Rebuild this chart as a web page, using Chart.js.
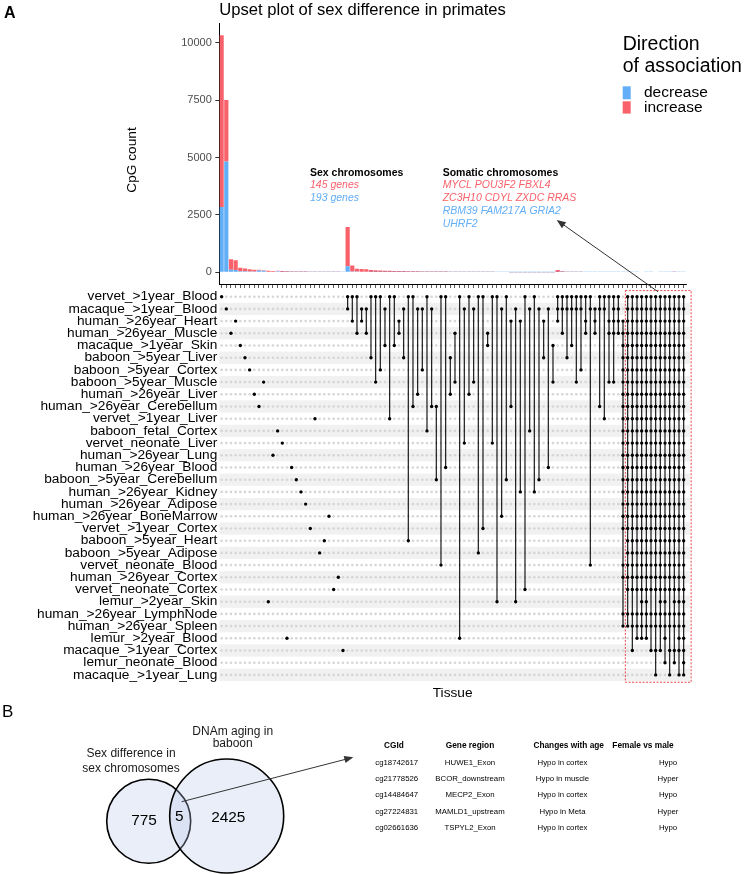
<!DOCTYPE html>
<html lang="en">
<head>
<meta charset="UTF-8">
<title>Upset plot of sex difference in primates</title>
<script src="https://cdn.jsdelivr.net/npm/chart.js@4"></script>
<style>
  body { margin: 0; background: #fff; }
  #page { position: relative; width: 746px; height: 874px; overflow: hidden; }
  canvas { position: absolute; left: 0; }
  #barCanvas { top: 0; z-index: 2; }
  #matrixCanvas { top: 280px; z-index: 1; }
  #vennCanvas { top: 700px; }
</style>
</head>
<body>
<div id="page">
  <canvas id="barCanvas" width="746" height="300"></canvas>
  <canvas id="matrixCanvas" width="746" height="425"></canvas>
  <canvas id="vennCanvas" width="746" height="174"></canvas>
</div>
<script>
const FONT = '"Liberation Sans", Arial, Helvetica, sans-serif';
const BLUE = '#62aef7';
const RED = '#f9626b';

// ---- data ----
const tissues = [
  'vervet_>1year_Blood', 'macaque_>1year_Blood', 'human_>26year_Heart', 'human_>26year_Muscle',
  'macaque_>1year_Skin', 'baboon_>5year_Liver', 'baboon_>5year_Cortex', 'baboon_>5year_Muscle',
  'human_>26year_Liver', 'human_>26year_Cerebellum', 'vervet_>1year_Liver', 'baboon_fetal_Cortex',
  'vervet_neonate_Liver', 'human_>26year_Lung', 'human_>26year_Blood', 'baboon_>5year_Cerebellum',
  'human_>26year_Kidney', 'human_>26year_Adipose', 'human_>26year_BoneMarrow', 'vervet_>1year_Cortex',
  'baboon_>5year_Heart', 'baboon_>5year_Adipose', 'vervet_neonate_Blood', 'human_>26year_Cortex',
  'vervet_neonate_Cortex', 'lemur_>2year_Skin', 'human_>26year_LymphNode', 'human_>26year_Spleen',
  'lemur_>2year_Blood', 'macaque_>1year_Cortex', 'lemur_neonate_Blood', 'macaque_>1year_Lung'
];

// rows (tissue index) taking part in each intersection column
const sets = [
  [0], [1], [3], [2], [4], [5], [6], [8], [9], [7],
  [25], [13], [11], [12], [28], [14], [15], [16], [17], [19],
  [10], [21], [20], [18], [24], [23], [29],
  [0, 1], [0, 2], [0, 3], [1, 2], [1, 3], [0, 5], [0, 7], [0, 6], [1, 4],
  [0, 10], [0, 4], [2, 3], [1, 5], [0, 20], [0, 9], [1, 8], [1, 6], [0, 11], [1, 9],
  [9, 15], [0, 22], [0, 14], [5, 8], [3, 7], [0, 28], [1, 12], [0, 8], [1, 7], [0, 21],
  [0, 19], [3, 4], [0, 12], [0, 25], [1, 18], [0, 15], [2, 9], [1, 25], [2, 16], [0, 24],
  [1, 11], [0, 16], [1, 15], [2, 5], [1, 14], [4, 7],
  [0, 1, 2], [0, 1, 3], [0, 1, 5], [0, 1, 4], [0, 1, 7], [0, 1, 6], [0, 2, 3], [0, 1, 22],
  [1, 2, 3], [0, 1, 9], [0, 1, 10], [0, 2, 3, 7], [0, 1, 2, 3, 7], [0, 1, 2, 3],
  [2, 3, 4, 5, 6, 7, 8, 9, 10, 11, 12, 13, 14, 15, 16, 17, 18, 19, 22, 23, 26, 27],
  [0, 1, 2, 3, 4, 5, 6, 7, 8, 9, 10, 11, 12, 13, 14, 15, 16, 17, 18, 19, 20, 21, 22, 23, 24, 26, 27],
  [0, 1, 2, 3, 4, 5, 6, 7, 8, 9, 10, 11, 12, 13, 14, 15, 16, 17, 18, 19, 20, 21, 22, 23, 24, 26, 27, 29],
  [0, 1, 2, 3, 4, 5, 6, 7, 8, 9, 10, 11, 12, 13, 14, 15, 16, 17, 18, 19, 20, 21, 22, 23, 24, 26, 27, 28],
  [0, 1, 2, 3, 4, 5, 6, 7, 8, 9, 10, 11, 12, 13, 14, 15, 16, 17, 18, 19, 20, 21, 22, 23, 24, 25, 26, 27, 28],
  [0, 1, 2, 3, 4, 5, 6, 7, 8, 9, 10, 11, 12, 13, 14, 15, 16, 17, 18, 19, 20, 21, 22, 23, 24, 25, 26, 27, 28],
  [0, 1, 2, 3, 4, 5, 6, 7, 8, 9, 10, 11, 12, 13, 14, 15, 16, 17, 18, 19, 20, 21, 22, 23, 24, 26, 27, 29],
  [0, 1, 2, 3, 4, 5, 6, 7, 8, 9, 10, 11, 12, 13, 14, 15, 16, 17, 18, 19, 20, 21, 22, 23, 24, 26, 27, 29, 31],
  [0, 1, 2, 3, 4, 5, 6, 7, 8, 9, 10, 11, 12, 13, 14, 15, 16, 17, 18, 19, 20, 21, 22, 23, 24, 25, 26, 27, 29],
  [0, 1, 2, 3, 4, 5, 6, 7, 8, 9, 10, 11, 12, 13, 14, 15, 16, 17, 18, 19, 20, 21, 22, 23, 24, 25, 26, 27, 28, 30],
  [0, 1, 2, 3, 4, 5, 6, 7, 8, 9, 10, 11, 12, 13, 14, 15, 16, 17, 18, 19, 20, 21, 22, 23, 24, 26, 27, 29, 31],
  [0, 1, 2, 3, 4, 5, 6, 7, 8, 9, 10, 11, 12, 13, 14, 15, 16, 17, 18, 19, 20, 21, 22, 23, 24, 25, 26, 27, 29, 30],
  [0, 1, 2, 3, 4, 5, 6, 7, 8, 9, 10, 11, 12, 13, 14, 15, 16, 17, 18, 19, 20, 21, 22, 23, 24, 25, 26, 27, 28, 29, 31],
  [0, 1, 2, 3, 4, 5, 6, 7, 8, 9, 10, 11, 12, 13, 14, 15, 16, 17, 18, 19, 20, 21, 22, 23, 24, 25, 26, 27, 28, 29, 30, 31]
];

const decrease = [
  2840, 4830, 110, 90, 40, 35, 30, 25, 70, 60,
  15, 12, 40, 10, 8, 8, 6, 6, 5, 5,
  4, 4, 4, 3, 3, 3, 3,
  260, 30, 25, 20, 15, 10, 10, 8, 8,
  6, 6, 5, 5, 5, 4, 4, 4, 3, 3,
  3, 3, 3, 2, 2, 2, 2, 2, 2, 2,
  2, 2, 2, 2, 2, 2, 1, 1, 1, 1,
  1, 1, 1, 1, 1, 1,
  8, 4, 3, 2, 2, 2, 2, 2,
  2, 2, 2, 2, 2, 2,
  3, 4, 3, 4, 15, 3, 4, 20, 3, 3, 2, 2, 2, 2
];
const increase = [
  7500, 2680, 450, 430, 150, 120, 95, 80, 30, 25,
  45, 40, 20, 35, 30, 25, 22, 20, 18, 16,
  15, 14, 12, 11, 10, 9, 8,
  1715, 260, 120, 115, 110, 80, 70, 60, 55,
  50, 45, 42, 40, 36, 33, 30, 28, 26, 24,
  22, 21, 20, 18, 17, 16, 15, 14, 13, 12,
  11, 10, 10, 9, 9, 8, 8, 7, 7, 6,
  6, 5, 5, 5, 4, 4,
  85, 30, 18, 14, 12, 10, 9, 8,
  7, 6, 5, 5, 4, 4,
  3, 3, 3, 2, 2, 2, 3, 2, 2, 2, 2, 20, 3, 2
];

const yTicks = [0, 2500, 5000, 7500, 10000];
const legendTitle = ['Direction', 'of association'];
const legendLabels = ['decrease', 'increase'];
const sexGenes = ['145 genes', '193 genes'];
const somaticUp = ['MYCL POU3F2 FBXL4', 'ZC3H10 CDYL ZXDC RRAS'];
const somaticDown = ['RBM39 FAM217A GRIA2', 'UHRF2'];

const vennNames = [['Sex difference in', 'sex chromosomes'], ['DNAm aging in', 'baboon']];
const vennCounts = [775, 5, 2425];
const tableHeader = ['CGId', 'Gene region', 'Changes with age', 'Female vs male'];
const tableRows = [
  ['cg18742617', 'HUWE1_Exon', 'Hypo in cortex', 'Hypo'],
  ['cg21778526', 'BCOR_downstream', 'Hypo in muscle', 'Hyper'],
  ['cg14484647', 'MECP2_Exon', 'Hypo in cortex', 'Hypo'],
  ['cg27224831', 'MAMLD1_upstream', 'Hypo in Meta', 'Hyper'],
  ['cg02661636', 'TSPYL2_Exon', 'Hypo in cortex', 'Hypo']
];

// ---- helpers ----
const PLOT_LEFT = 219.3;
const PLOT_RIGHT = 686;

function arrow(ctx, x1, y1, x2, y2) {
  const a = Math.atan2(y2 - y1, x2 - x1);
  ctx.strokeStyle = '#333';
  ctx.fillStyle = '#333';
  ctx.lineWidth = 1;
  ctx.beginPath();
  ctx.moveTo(x1, y1);
  ctx.lineTo(x2 - 6 * Math.cos(a), y2 - 6 * Math.sin(a));
  ctx.stroke();
  ctx.beginPath();
  ctx.moveTo(x2, y2);
  ctx.lineTo(x2 - 9 * Math.cos(a) + 3.6 * Math.sin(a), y2 - 9 * Math.sin(a) - 3.6 * Math.cos(a));
  ctx.lineTo(x2 - 9 * Math.cos(a) - 3.6 * Math.sin(a), y2 - 9 * Math.sin(a) + 3.6 * Math.cos(a));
  ctx.closePath();
  ctx.fill();
}

// ---- top: stacked bars ----
const barDecor = {
  id: 'barDecor',
  afterDraw(chart) {
    const ctx = chart.ctx;
    ctx.save();
    ctx.textBaseline = 'middle';
    ctx.textAlign = 'left';
    ctx.fillStyle = '#000';
    ctx.font = `bold 16px ${FONT}`;
    ctx.fillText('A', 4, 14);
    ctx.font = `16.6px ${FONT}`;
    ctx.fillText('Upset plot of sex difference in primates', chart.chartArea.left, 10);

    ctx.save();
    ctx.translate(132, 160);
    ctx.rotate(-Math.PI / 2);
    ctx.textAlign = 'center';
    ctx.font = `13.7px ${FONT}`;
    ctx.fillText('CpG count', 0, 0);
    ctx.restore();

    // legend
    ctx.font = `19.5px ${FONT}`;
    ctx.fillText(legendTitle[0], 622.7, 45);
    ctx.fillText(legendTitle[1], 622.7, 66.7);
    ctx.fillStyle = BLUE;
    ctx.fillRect(622.7, 86.3, 8, 13);
    ctx.fillStyle = RED;
    ctx.fillRect(622.7, 101.3, 8, 12.3);
    ctx.fillStyle = '#000';
    ctx.font = `15.5px ${FONT}`;
    ctx.fillText(legendLabels[0], 644, 92.7);
    ctx.fillText(legendLabels[1], 644, 107.3);

    // annotations
    const lineY = [172.7, 185.3, 198.5, 211, 223.6];
    ctx.font = `bold 10.5px ${FONT}`;
    ctx.fillText('Sex chromosomes', 310, lineY[0]);
    ctx.fillText('Somatic chromosomes', 442.7, lineY[0]);
    ctx.font = `italic 10.5px ${FONT}`;
    ctx.fillStyle = RED;
    ctx.fillText(sexGenes[0], 310, lineY[1]);
    somaticUp.forEach((t, i) => ctx.fillText(t, 442.7, lineY[1 + i]));
    ctx.fillStyle = BLUE;
    ctx.fillText(sexGenes[1], 310, lineY[2]);
    somaticDown.forEach((t, i) => ctx.fillText(t, 442.7, lineY[3 + i]));

    arrow(ctx, 658, 291.7, 556.7, 220);
    ctx.restore();
  }
};

new Chart(document.getElementById('barCanvas'), {
  type: 'bar',
  data: {
    labels: sets.map((_, i) => String(i)),
    datasets: [
      { label: legendLabels[0], data: decrease, backgroundColor: BLUE, barPercentage: 0.9, categoryPercentage: 1 },
      { label: legendLabels[1], data: increase, backgroundColor: RED, barPercentage: 0.9, categoryPercentage: 1 }
    ]
  },
  options: {
    responsive: false,
    animation: false,
    layout: { autoPadding: false, padding: { left: 0, right: 746 - PLOT_RIGHT, top: 23.3, bottom: 0 } },
    plugins: { legend: { display: false }, tooltip: { enabled: false } },
    scales: {
      x: {
        type: 'category',
        stacked: true,
        offset: true,
        ticks: { display: false, autoSkip: false },
        grid: { display: true, offset: false, drawOnChartArea: false, drawTicks: true, tickLength: 4, color: '#333', lineWidth: 0.8 },
        border: { display: true, color: '#000', width: 1 },
        afterFit(s) { s.height = 16; }
      },
      y: {
        stacked: true,
        min: -517,
        max: 10857,
        afterBuildTicks(s) { s.ticks = yTicks.map(v => ({ value: v })); },
        ticks: { autoSkip: false, padding: 3.5, color: '#4d4d4d', font: { family: FONT, size: 11 }, callback: v => String(v) },
        grid: { display: true, drawOnChartArea: false, drawTicks: true, tickLength: 4, color: '#333' },
        border: { display: true, color: '#000', width: 1 },
        afterFit(s) { s.width = PLOT_LEFT; }
      }
    }
  },
  plugins: [barDecor]
});

// ---- middle: intersection matrix ----
const activeDots = [];
const greyDots = [];
const segments = [];
sets.forEach((rows, c) => {
  tissues.forEach((_, r) => (rows.includes(r) ? activeDots : greyDots).push({ x: c, y: r }));
  if (rows.length > 1) {
    segments.push({ x: c, y: Math.min(...rows) }, { x: c, y: Math.max(...rows) }, { x: c, y: null });
  }
});

const matrixDecor = {
  id: 'matrixDecor',
  beforeDatasetsDraw(chart) {
    const { ctx, chartArea, scales: { y } } = chart;
    ctx.save();
    ctx.fillStyle = '#f1f1f1';
    tissues.forEach((_, r) => {
      if (r % 2 === 1) {
        const top = y.getPixelForValue(r - 0.5);
        const bot = y.getPixelForValue(r + 0.5);
        ctx.fillRect(chartArea.left, top, chartArea.right - chartArea.left + 4, bot - top);
      }
    });
    ctx.restore();
  },
  afterDatasetsDraw(chart) {
    const { ctx, scales: { x, y } } = chart;
    ctx.save();
    ctx.strokeStyle = '#e8464c';
    ctx.lineWidth = 1;
    ctx.setLineDash([2, 1.5]);
    const x1 = x.getPixelForValue(86.5), x2 = x.getPixelForValue(100.6);
    const y1 = y.getPixelForValue(-0.5), y2 = y.getPixelForValue(31.6);
    ctx.strokeRect(x1, y1, x2 - x1, y2 - y1);
    ctx.restore();
  }
};

new Chart(document.getElementById('matrixCanvas'), {
  type: 'scatter',
  data: {
    datasets: [
      { data: activeDots, pointRadius: 1.7, backgroundColor: '#000', borderWidth: 0, order: 0 },
      { type: 'line', data: segments, borderColor: '#1a1a1a', borderWidth: 1.2, pointRadius: 0, spanGaps: false, fill: false, order: 1 },
      { data: greyDots, pointRadius: 1.3, backgroundColor: '#d6d6d6', borderWidth: 0, order: 2 }
    ]
  },
  options: {
    responsive: false,
    animation: false,
    layout: { autoPadding: false, padding: { left: 0, right: 746 - PLOT_RIGHT, top: 10.6, bottom: 0 } },
    plugins: { legend: { display: false }, tooltip: { enabled: false } },
    scales: {
      x: {
        type: 'linear',
        min: -0.5,
        max: sets.length - 0.5,
        grid: { display: false },
        border: { display: false },
        ticks: { display: false },
        title: { display: true, text: 'Tissue', color: '#000', font: { family: FONT, size: 13.7 }, padding: { top: 0, bottom: 4 } },
        afterFit(s) { s.height = 24; }
      },
      y: {
        type: 'linear',
        min: -0.5,
        max: tissues.length - 0.5,
        reverse: true,
        afterBuildTicks(s) { s.ticks = tissues.map((_, i) => ({ value: i })); },
        ticks: { autoSkip: false, padding: 2, color: '#000', font: { family: FONT, size: 13.7 }, callback: v => tissues[v] },
        grid: { display: false, drawTicks: false },
        border: { display: false },
        afterFit(s) { s.width = PLOT_LEFT; }
      }
    }
  },
  plugins: [matrixDecor]
});

// ---- bottom: Venn diagram and CpG table ----
const vennCircles = [
  { x: 148.7, y: 821.3, r: 42 },
  { x: 226.7, y: 816, r: 57 }
];

const vennDecor = {
  id: 'vennDecor',
  afterDraw(chart) {
    const { ctx, scales: { x, y } } = chart;
    const px = v => x.getPixelForValue(v);
    const py = v => y.getPixelForValue(v);
    ctx.save();
    ctx.textBaseline = 'middle';
    ctx.fillStyle = '#000';
    ctx.textAlign = 'left';
    ctx.font = `17px ${FONT}`;
    ctx.fillText('B', px(2), py(712));

    ctx.textAlign = 'center';
    ctx.font = `15.4px ${FONT}`;
    ctx.fillText(String(vennCounts[0]), px(144), py(820.7));
    ctx.fillText(String(vennCounts[1]), px(179.3), py(816.7));
    ctx.fillText(String(vennCounts[2]), px(228.3), py(817.3));

    ctx.fillStyle = '#1a1a1a';
    ctx.font = `12px ${FONT}`;
    ctx.fillText(vennNames[0][0], px(131), py(753.3));
    ctx.fillText(vennNames[0][1], px(131), py(768.3));
    ctx.fillText(vennNames[1][0], px(232.7), py(731.7));
    ctx.fillText(vennNames[1][1], px(232.7), py(744));

    arrow(ctx, px(181.7), py(801.7), px(353.3), py(757.3));

    // table
    const headX = [394, 470, 568.7, 643];
    const cellX = [396.7, 470, 562.5, 668];
    const rowY = [762.5, 778.5, 795, 811.5, 828];
    ctx.fillStyle = '#000';
    ctx.font = `bold 8.3px ${FONT}`;
    tableHeader.forEach((t, i) => ctx.fillText(t, px(headX[i]), py(746)));
    ctx.font = `7.8px ${FONT}`;
    tableRows.forEach((row, j) => row.forEach((t, i) => ctx.fillText(t, px(cellX[i]), py(rowY[j]))));
    ctx.restore();
  }
};

new Chart(document.getElementById('vennCanvas'), {
  type: 'bubble',
  data: {
    datasets: [{
      data: vennCircles,
      backgroundColor: 'rgba(182, 198, 232, 0.3)',
      borderColor: '#000',
      borderWidth: 1.6,
      clip: false
    }]
  },
  options: {
    responsive: false,
    animation: false,
    layout: { autoPadding: false, padding: 0 },
    plugins: { legend: { display: false }, tooltip: { enabled: false } },
    scales: {
      x: { type: 'linear', display: false, min: 0, max: 746 },
      y: { type: 'linear', display: false, min: 700, max: 874, reverse: true }
    }
  },
  plugins: [vennDecor]
});
</script>
</body>
</html>
